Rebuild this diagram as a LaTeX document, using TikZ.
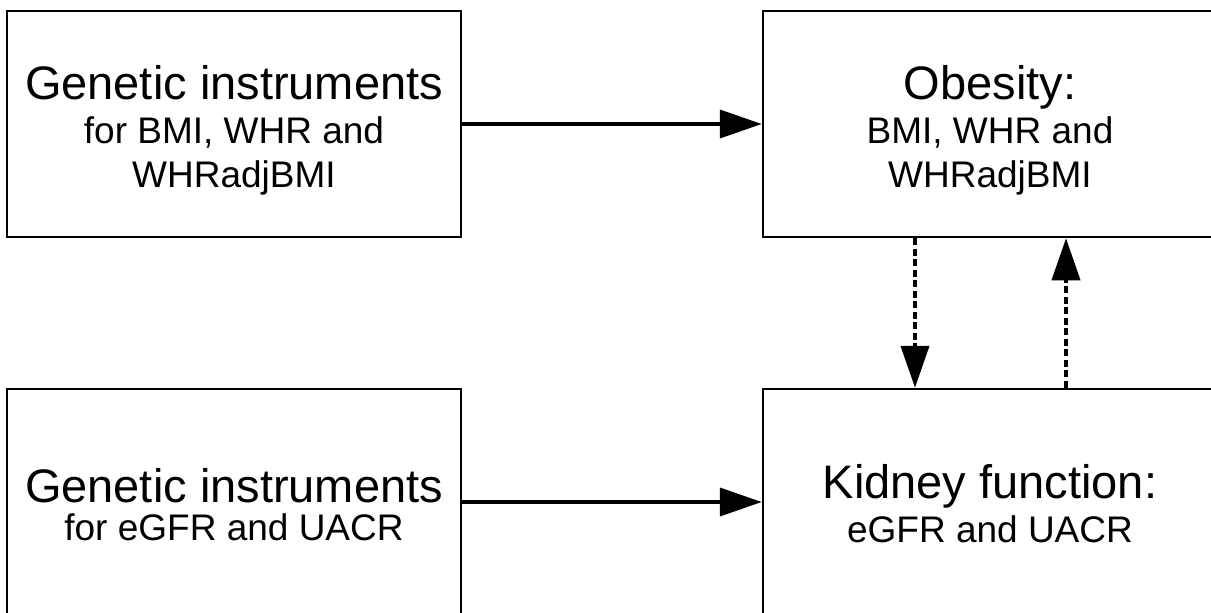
\documentclass[tikz,border=0pt]{standalone}
\usepackage{fontspec}
\setmainfont{Liberation Sans}
\usetikzlibrary{arrows.meta}
\begin{document}
\begin{tikzpicture}[x=1pt,y=-1pt,
  box/.style={draw, line width=2.5pt, minimum width=454pt, minimum height=226pt, inner sep=0pt},
  txt/.style={inner sep=0pt, align=center, font=\fontsize{37}{44}\selectfont},
  txttight/.style={txt, font=\fontsize{37}{38}\selectfont},
  arr/.style={line width=4pt, -{Triangle[length=42pt,width=28pt]}},
  darr/.style={arr, dash pattern=on 7pt off 3.5pt}]
\clip (0,0) rectangle (1211,613);
\fill[white] (0,0) rectangle (1211,613);
\node[box] (gi1) at (234,124) {};
\node[box] (ob) at (990,124) {};
\node[box] (gi2) at (234,502) {};
\node[box] (kid) at (990,502) {};
\node[txt] (gi1t) at ([yshift=-6pt]gi1.center) {{\fontsize{47}{47}\selectfont Genetic instruments}\\for BMI, WHR and\\ WHRadjBMI};
\node[txt] (obt) at ([yshift=-6pt]ob.center) {{\fontsize{47}{47}\selectfont Obesity:}\\BMI, WHR and\\ WHRadjBMI};
\node[txttight] (gi2t) at ([yshift=-3pt]gi2.center) {{\fontsize{47}{47}\selectfont Genetic instruments}\\for eGFR and UACR};
\node[txt] (kidt) at ([yshift=-2pt]kid.center) {{\fontsize{47}{47}\selectfont Kidney function:}\\eGFR and UACR};
\draw[arr] (gi1) -- (ob);
\draw[arr] (gi2) -- (kid);
\draw[darr] ([xshift=-75pt]ob.south) -- ([xshift=-75pt]kid.north);
\draw[darr] ([xshift=76pt]kid.north) -- ([xshift=76pt]ob.south);
\end{tikzpicture}
\end{document}
